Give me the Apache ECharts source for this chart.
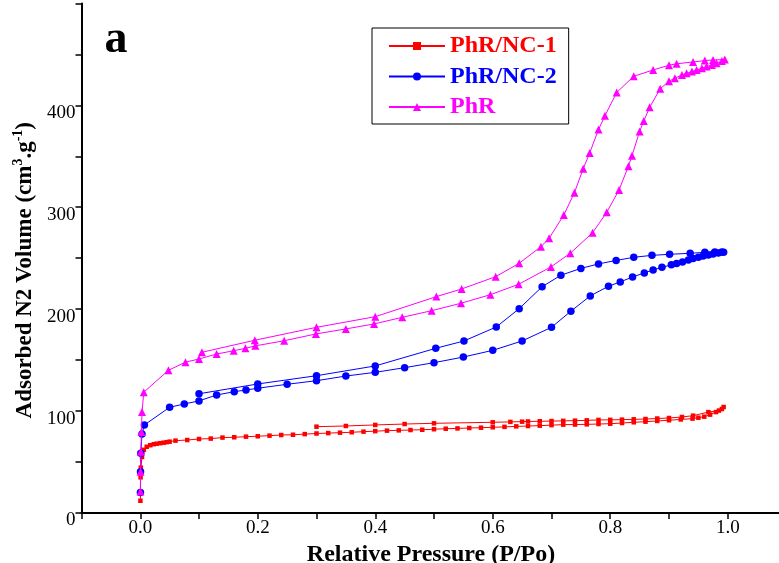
<!DOCTYPE html>
<html>
<head>
<meta charset="utf-8">
<script src="https://cdn.jsdelivr.net/npm/echarts@6/dist/echarts.min.js"></script>
<style>
html,body{margin:0;padding:0;background:#fff;}
#chart{width:779px;height:563px;}
</style>
</head>
<body>
<div id="chart"></div>
<script>
// Series names
const seriesNames = ['PhR/NC-1', 'PhR/NC-2', 'PhR'];
const seriesColors = ['#FF0000', '#0000FF', '#FF00FF'];

// PhR/NC-1 adsorption branch [P/Po, volume]
const nc1Ads = [[0.0003,12],[0.0006,35],[0.001,44.5],[0.003,55],[0.006,62],[0.011,65],[0.017,66.5],[0.023,67.5],[0.028,68],[0.034,68.5],[0.04,69],[0.045,69.5],[0.05,70],[0.06,71],[0.08,71.6],[0.10,72.6],[0.12,73],[0.14,74],[0.16,74.3],[0.18,74.9],[0.20,75.3],[0.22,75.9],[0.24,76.5],[0.26,76.8],[0.28,77.4],[0.30,78],[0.32,78.4],[0.34,78.8],[0.36,79.2],[0.38,79.8],[0.40,80.3],[0.42,80.8],[0.44,81.1],[0.46,81.4],[0.48,81.7],[0.50,82.2],[0.52,82.7],[0.54,83],[0.56,83.4],[0.58,83.7],[0.60,84.1],[0.62,84.5],[0.64,85],[0.66,85.3],[0.68,85.7],[0.70,86.2],[0.72,86.7],[0.74,86.8],[0.76,87],[0.78,87.3],[0.80,87.6],[0.82,88.3],[0.84,89],[0.86,89.6],[0.88,90.3],[0.90,91],[0.92,91.8],[0.94,92.6],[0.95,93.5],[0.96,94.5],[0.97,96.5],[0.98,99],[0.99,102],[0.993,104]];
// PhR/NC-1 desorption branch
const nc1Des = [[0.985,100.5],[0.967,99],[0.941,95.5],[0.922,94.2],[0.90,93.2],[0.88,92.7],[0.86,92.2],[0.84,91.9],[0.82,91.6],[0.80,91.4],[0.78,91.3],[0.76,90.9],[0.74,90.6],[0.72,90.4],[0.70,90.2],[0.68,90],[0.66,89.8],[0.65,89.6],[0.63,89.4],[0.60,89],[0.50,88],[0.45,87.3],[0.40,86.4],[0.35,85.4],[0.30,84.7]];

// PhR/NC-2 adsorption branch
const nc2Ads = [[0.0003,20],[0.0005,40.5],[0.001,58.6],[0.003,77.5],[0.007,86.4],[0.05,103.7],[0.075,107],[0.10,110],[0.13,115.8],[0.16,119],[0.18,120.7],[0.20,122.4],[0.25,126.3],[0.30,129.8],[0.35,134.4],[0.40,138],[0.45,142.6],[0.50,147.5],[0.55,153],[0.60,159.6],[0.65,168.8],[0.70,182.2],[0.733,198],[0.766,213],[0.797,222.5],[0.817,226.7],[0.838,231.6],[0.858,235.5],[0.873,238.5],[0.888,241],[0.904,243.5],[0.913,244.8],[0.923,246.3],[0.933,248.3],[0.941,249.6],[0.95,251],[0.958,252.2],[0.967,253.2],[0.975,254.2],[0.984,255.1],[0.993,255.8]];
// PhR/NC-2 desorption branch
const nc2Des = [[0.99,256.1],[0.978,256],[0.961,255.8],[0.936,254.8],[0.901,253.8],[0.871,252.8],[0.84,250.9],[0.81,247.8],[0.78,244.4],[0.75,240],[0.716,233.3],[0.684,222],[0.645,200.5],[0.606,182.5],[0.551,168.8],[0.503,161.6],[0.40,144.3],[0.30,134.7],[0.20,126.6],[0.10,117]];

// PhR adsorption branch
const phrAds = [[0.0003,21],[0.0005,40.5],[0.001,60],[0.002,79.5],[0.003,99],[0.006,118.5],[0.048,140],[0.077,148],[0.10,151.1],[0.13,156],[0.159,159.2],[0.179,161.6],[0.196,164],[0.245,169],[0.299,175.7],[0.35,180.6],[0.398,185.5],[0.446,192],[0.496,198.5],[0.546,205.8],[0.596,214.2],[0.644,224.4],[0.699,241.4],[0.732,254.9],[0.77,275],[0.794,295],[0.815,317],[0.831,340.3],[0.837,350.5],[0.85,374.4],[0.857,384.5],[0.867,398],[0.885,416.2],[0.90,423.7],[0.91,426.6],[0.922,429.8],[0.93,431.5],[0.939,433.1],[0.947,434.7],[0.956,436.4],[0.964,438],[0.973,439.6],[0.981,441.3],[0.99,443.6],[0.995,445]];
// PhR desorption branch
const phrDes = [[0.975,444.5],[0.961,443.9],[0.941,442.5],[0.913,440.8],[0.90,439.3],[0.873,434.7],[0.84,428.5],[0.811,412.6],[0.791,389.8],[0.78,376.2],[0.765,353.3],[0.754,337.8],[0.739,314.3],[0.721,292.4],[0.696,269.6],[0.682,261.3],[0.645,245],[0.605,231.9],[0.547,219.8],[0.504,212.3],[0.40,192.6],[0.30,182.2],[0.195,169.5],[0.105,157.7]];

// Axis tick settings
const xMin = -0.1, xMax = 1.1, xStep = 0.1;
const yMin = 0, yMax = 500, yStep = 50;
const xLabelValues = [0.0, 0.2, 0.4, 0.6, 0.8, 1.0];
const yLabelValues = [0, 100, 200, 300, 400];

const FONT = '"Liberation Serif", "Times New Roman", serif';

const chart = echarts.init(document.getElementById('chart'), null, {renderer: 'canvas'});

const seriesData = [nc1Ads.concat(nc1Des), nc2Ads.concat(nc2Des), phrAds.concat(phrDes)];
const symbols = ['rect', 'circle', 'triangle'];
const symbolSizes = [4.5, 7.5, 8];

const option = {
  animation: false,
  backgroundColor: '#fff',
  grid: {left: 81.5, right: -7.5, top: 3.4, bottom: 50, outerBoundsMode: 'none', containLabel: false},
  xAxis: {
    type: 'value', min: xMin, max: xMax, interval: xStep,
    axisLine: {show: true, onZero: false, lineStyle: {color: '#000', width: 2}},
    axisTick: {show: true, inside: false, length: 6, lineStyle: {color: '#000', width: 1.5}},
    splitLine: {show: false},
    axisLabel: {
      fontFamily: FONT, fontSize: 19, color: '#000', margin: 6,
      showMinLabel: true, showMaxLabel: true,
      formatter: function (v) {
        const r = Math.round(v * 10) / 10;
        return xLabelValues.some(function (t) { return Math.abs(t - r) < 1e-6; }) ? r.toFixed(1) : '';
      }
    },
    name: 'Relative Pressure (P/Po)', nameLocation: 'middle', nameGap: 22,
    nameTextStyle: {fontFamily: FONT, fontSize: 24, fontWeight: 'bold', color: '#000', padding: [0, 6, 0, 0]}
  },
  yAxis: {
    type: 'value', min: yMin, max: yMax, interval: yStep,
    axisLine: {show: true, onZero: false, lineStyle: {color: '#000', width: 2}},
    axisTick: {show: true, inside: false, length: 6, lineStyle: {color: '#000', width: 1.5}},
    splitLine: {show: false},
    axisLabel: {
      fontFamily: FONT, fontSize: 19, color: '#000', margin: 6,
      verticalAlign: 'top', lineHeight: 15,
      showMinLabel: true, showMaxLabel: true,
      formatter: function (v) {
        const r = Math.round(v);
        return yLabelValues.indexOf(r) >= 0 ? String(r) : '';
      }
    },
    name: 'Adsorbed N2 Volume (cm{sup|3}.g{sup|-1})', nameLocation: 'middle', nameGap: 38, nameRotate: 90,
    nameTextStyle: {
      fontFamily: FONT, fontSize: 23, fontWeight: 'bold', color: '#000', padding: [0, 24, 0, 0],
      rich: {sup: {fontFamily: FONT, fontSize: 14, fontWeight: 'bold', color: '#000', padding: [0, 0, 12, 0]}}
    }
  },
  legend: {
    show: true, orient: 'vertical', left: 372, top: 28,
    padding: [6, 12, 5, 16], itemGap: 6.5, itemWidth: 56, itemHeight: 10,
    borderColor: '#000', borderWidth: 1, backgroundColor: '#fff',
    textStyle: {fontFamily: FONT, fontSize: 24, fontWeight: 'bold'},
    data: seriesNames.map(function (n, i) { return {name: n, textStyle: {color: seriesColors[i]}}; })
  },
  graphic: [{
    type: 'text', x: 116, y: 40, z: 100,
    style: {text: 'a', fontFamily: FONT, fontSize: 46, fontWeight: 'bold', fill: '#000', align: 'center', verticalAlign: 'middle'}
  }],
  series: seriesNames.map(function (n, i) {
    return {
      name: n, type: 'line', data: seriesData[i],
      symbol: symbols[i], symbolSize: symbolSizes[i], showSymbol: true,
      color: seriesColors[i],
      lineStyle: {color: seriesColors[i], width: 1},
      itemStyle: {color: seriesColors[i]},
      z: 2 + i, clip: false
    };
  })
};
chart.setOption(option);
</script>
</body>
</html>
